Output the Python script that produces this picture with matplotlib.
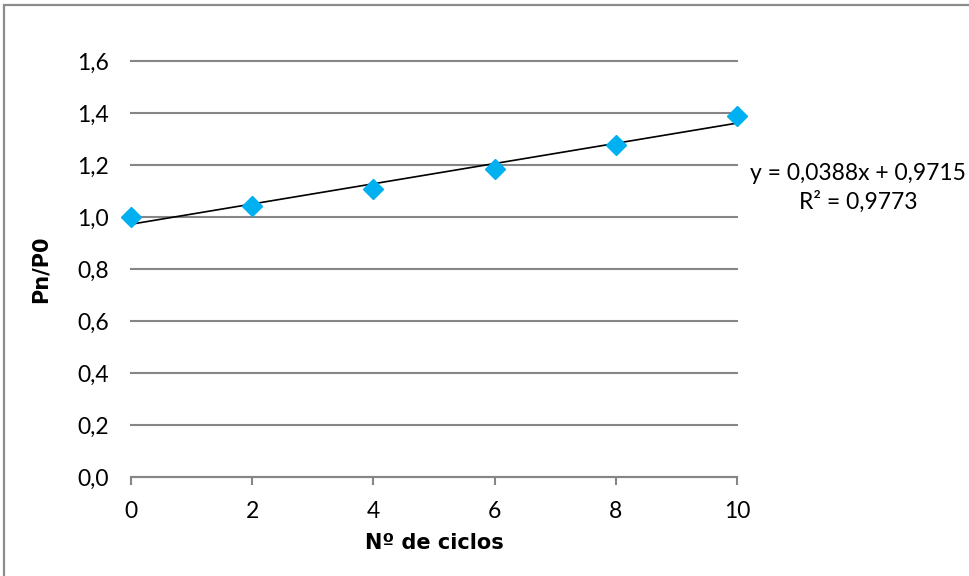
import matplotlib.pyplot as plt
import numpy as np
from matplotlib.patches import Rectangle

# dados
ciclos = [0, 2, 4, 6, 8, 10]
pn_p0 = [1.000, 1.042, 1.108, 1.185, 1.277, 1.388]
yticks = [0.0, 0.2, 0.4, 0.6, 0.8, 1.0, 1.2, 1.4, 1.6]
equacao = "y = 0,0388x + 0,9715\nR² = 0,9773"

plt.rcParams['font.family'] = ['Lato', 'DejaVu Sans']

fig = plt.figure(figsize=(9.69, 5.76), dpi=100)
ax = fig.add_axes([131/969, 1-477/576, (737-131)/969, (477-61)/576])

# moldura do grafico (cortada a direita e em baixo)
fig.patches.append(Rectangle((4/969, -0.1), 1.2, 1-5/576+0.1, transform=fig.transFigure,
                             fill=False, edgecolor='#8c8c8c', linewidth=1.6))

# linha de tendencia
coef = np.polyfit(ciclos, pn_p0, 1)
xt = np.array([0, 10])
ax.plot(xt, np.polyval(coef, xt), color='black', linewidth=1.2, zorder=3)

ax.plot(ciclos, pn_p0, linestyle='none', marker='D', markersize=10.5,
        color='#00b0f0', zorder=4, clip_on=False)

ax.set_xlim(0, 10)
ax.set_ylim(0, 1.6)
ax.set_xticks(range(0, 11, 2))
ax.set_yticks(yticks)
ax.set_yticklabels([f"{v:.1f}".replace('.', ',') for v in yticks])
ax.grid(axis='y', color='#868686', linewidth=1.5)
for gl in ax.get_ygridlines():
    gl.set_clip_on(False)
ax.set_axisbelow(True)
for s in ['top', 'right', 'left']:
    ax.spines[s].set_visible(False)
ax.spines['bottom'].set_color('#868686')
ax.spines['bottom'].set_linewidth(1.5)
ax.tick_params(axis='x', direction='out', length=6, width=1.5, color='#868686',
               labelsize=16.5, pad=11)
ax.tick_params(axis='y', length=0, labelsize=16.5, pad=16)

rotulo = dict(fontsize=15, fontweight='bold', family=['DejaVu Sans'])
ax.set_xlabel("Nº de ciclos", labelpad=8, **rotulo)
ax.set_ylabel("Pn/P0", labelpad=19, **rotulo)

fig.text(858/969, 1-188/576, equacao, ha='center', va='center', fontsize=16.5,
         linespacing=1.35)

fig.savefig("out.png", dpi=100)
